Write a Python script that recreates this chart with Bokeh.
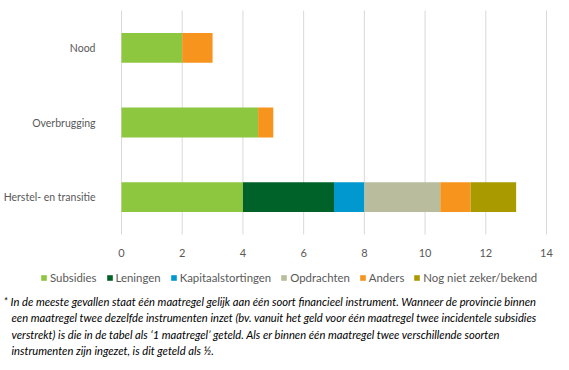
from bokeh.plotting import figure
from bokeh.models import Range1d, Legend, LegendItem, FixedTicker, LinearAxis, Label
from bokeh.embed import file_html
from bokeh.resources import INLINE

categories = ["Herstel- en transitie", "Overbrugging", "Nood"]
series = ["Subsidies", "Leningen", "Kapitaalstortingen", "Opdrachten", "Anders", "Nog niet zeker/bekend"]
subsidies = [4, 4.5, 2]
leningen = [3, 0, 0]
kapitaal = [1, 0, 0]
opdrachten = [2.5, 0, 0]
anders = [1, 0.5, 1]
nog_niet = [1.5, 0, 0]
colors = ["#8DC63F", "#006129", "#0098CE", "#B9BD9E", "#F7941D", "#A99A00"]
x_ticks = [0, 2, 4, 6, 8, 10, 12, 14]
footnote = [
    "* In de meeste gevallen staat één maatregel gelijk aan één soort financieel instrument. Wanneer de provincie binnen",
    "een maatregel twee dezelfde instrumenten inzet (bv. vanuit het geld voor één maatregel twee incidentele subsidies",
    "verstrekt) is die in de tabel als \u20181 maatregel\u2019 geteld. Als er binnen één maatregel twee verschillende soorten",
    "instrumenten zijn ingezet, is dit geteld als \u00bd.",
]

FONT = "Lato"
W, H = 566, 366
# chart area inside the canvas (pixels)
left, right, top, bottom = 121, 546, 10, 234
xmax = x_ticks[-1]
xs = (right - left) / xmax
n = len(categories)
ys = (bottom - top) / n
x_range = Range1d(-left / xs, xmax + (W - right) / xs)
y_range = Range1d(-0.5 - (H - bottom) / ys, n - 0.5 + top / ys)

ypos = list(range(n))
data = dict(y=ypos, Subsidies=subsidies, Leningen=leningen, Kapitaalstortingen=kapitaal,
            Opdrachten=opdrachten, Anders=anders)
data["Nog niet zeker/bekend"] = nog_niet

p = figure(width=W, height=H, x_range=x_range, y_range=y_range, output_backend="svg",
           toolbar_location=None, min_border=0, x_axis_type=None, y_axis_type=None)
p.outline_line_color = None
p.grid.visible = False

# vertical gridlines over the chart area
p.segment(x0=x_ticks, y0=[-0.5] * len(x_ticks), x1=x_ticks, y1=[n - 0.5] * len(x_ticks),
          line_color="#D9D9D9", line_width=1)

renderers = p.hbar_stack(series, y="y", height=0.4, color=colors, source=data, line_width=0)

xaxis = LinearAxis(fixed_location=-0.5, ticker=FixedTicker(ticks=x_ticks))
yaxis = LinearAxis(fixed_location=0, ticker=FixedTicker(ticks=ypos),
                   major_label_overrides={i: c for i, c in zip(ypos, categories)})
for ax in (xaxis, yaxis):
    ax.axis_line_color = None
    ax.major_tick_line_color = None
    ax.minor_tick_line_color = None
    ax.major_label_text_font = FONT
    ax.major_label_text_color = "#595959"
xaxis.major_label_text_font_size = "11px"
yaxis.major_label_text_font_size = "10.5px"
xaxis.major_label_standoff = 8
yaxis.major_label_standoff = 20
p.add_layout(xaxis, "below")
p.add_layout(yaxis, "left")

items = [LegendItem(label=s, renderers=[r]) for s, r in zip(series, renderers)]
legend = Legend(items=items, orientation="horizontal", location=(40, 82),
                label_text_font=FONT, label_text_font_size="11.4px", label_text_color="#595959",
                glyph_width=7, glyph_height=7, spacing=9, label_standoff=3, label_height=14,
                padding=0, margin=0, border_line_color=None, background_fill_alpha=0)
p.add_layout(legend, "center")

for i, line in enumerate(footnote):
    p.add_layout(Label(x=3 if i == 0 else 11, y=65 - 16.4 * i, x_units="screen", y_units="screen",
                       text=line, text_font=FONT, text_font_style="italic", text_font_size="11.2px",
                       text_color="#000000", text_baseline="middle", text_align="left"))

open("out.html", "w").write(file_html(p, INLINE))
